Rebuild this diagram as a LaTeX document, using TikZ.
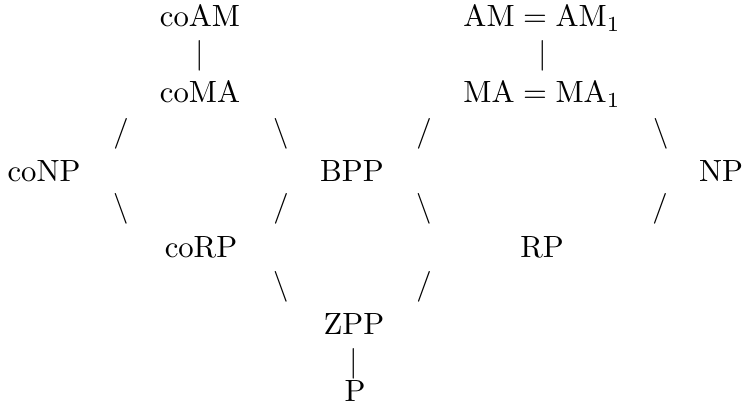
\documentclass[tikz,border=0pt]{standalone}
\begin{document}
\begin{tikzpicture}[x=0.3257pt,y=-0.3257pt,
  cls/.style={inner sep=0pt,anchor=base},
  glyph/.style={inner sep=0pt,anchor=base}]
\useasboundingbox (0,0) rectangle (743,416);
% left diamond
\node[cls] (coAM) at (200,27) {coAM};
\node[glyph] (b1) at (200,64) {$|$};
\node[cls] (coMA) at (200,103) {coMA};
\node[glyph] (s1) at (121,142) {$/$};
\node[glyph] (s2) at (281,142) {$\backslash$};
\node[cls] (coNP) at (44,182) {coNP};
\node[cls] (BPP) at (352,182) {BPP};
\node[glyph] (s3) at (121,217) {$\backslash$};
\node[glyph] (s4) at (281,217) {$/$};
\node[cls] (coRP) at (201,258) {coRP};
\node[glyph] (s5) at (281,295) {$\backslash$};
\node[cls] (ZPP) at (354,335) {ZPP};
\node[glyph] (b3) at (354,372) {$|$};
\node[cls] (P) at (355,402) {P};
% right diamond
\node[cls] (AM) at (542,27) {$\mathrm{AM}=\mathrm{AM}_1$};
\node[glyph] (b2) at (543,64) {$|$};
\node[cls] (MA) at (542,103) {$\mathrm{MA}=\mathrm{MA}_1$};
\node[glyph] (s6) at (424,142) {$/$};
\node[glyph] (s7) at (661,142) {$\backslash$};
\node[cls] (NP) at (721,182) {NP};
\node[glyph] (s8) at (424,217) {$\backslash$};
\node[glyph] (s9) at (660,217) {$/$};
\node[cls] (RP) at (542,258) {RP};
\node[glyph] (s10) at (424,295) {$/$};
\end{tikzpicture}
\end{document}
